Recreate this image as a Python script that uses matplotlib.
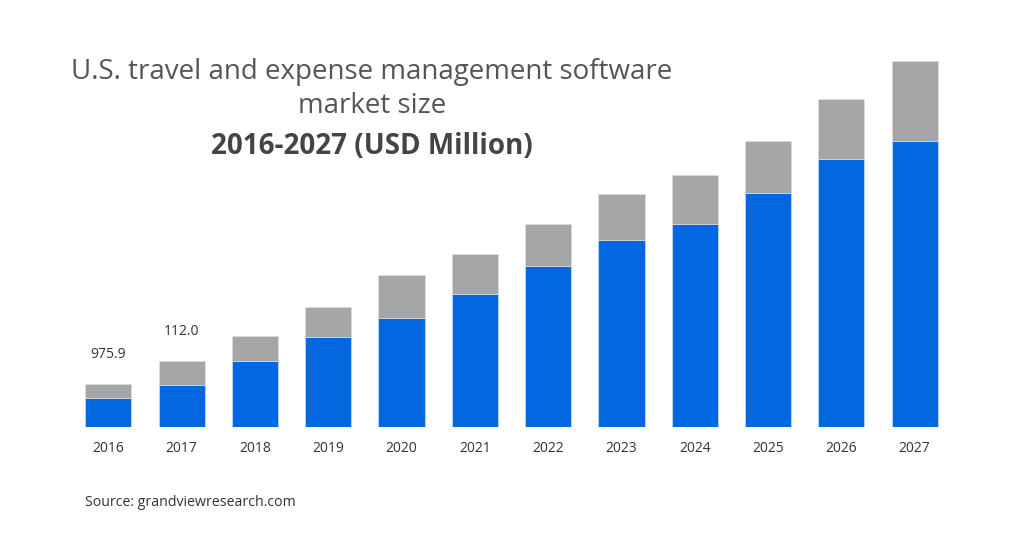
import matplotlib
matplotlib.use("Agg")
import matplotlib.pyplot as plt
import numpy as np

# ── data (arbitrary units) ───────────────────────────────────────────────────
years = ["2016", "2017", "2018", "2019", "2020", "2021",
         "2022", "2023", "2024", "2025", "2026", "2027"]
blue_part = [28.7, 42.3, 66.3, 89.7, 109.3, 132.7, 161.3, 186.7, 203.3, 234.0, 268.0, 286.3]
gray_part = [14.3, 23.7, 25.0, 30.0, 43.0, 40.0, 41.7, 46.6, 48.7, 52.0, 60.0, 79.7]
value_labels = {0: "975.9", 1: "112.0"}

BLUE = "#0368DF"
GRAY = "#A6A6A6"
TXT = "#333333"

plt.rcParams["font.family"] = ["Open Sans", "DejaVu Sans"]

fig = plt.figure(figsize=(10.24, 5.38), dpi=100)
ax = fig.add_axes([0.07, 0.2063, 0.859, 0.7193])

x = np.arange(len(years))
ax.bar(x, blue_part, width=0.63, color=BLUE, edgecolor="#cfe0f5", linewidth=0.5)
ax.bar(x, gray_part, width=0.63, bottom=blue_part, color=GRAY,
       edgecolor="#dddddd", linewidth=0.5)

for i, lab in value_labels.items():
    top = blue_part[i] + gray_part[i]
    ax.text(x[i], top + 22, lab, ha="center", va="bottom", fontsize=10, color=TXT)

ax.set_xlim(-0.5, len(years) - 0.5)
ax.set_ylim(0, 387)
ax.set_xticks(x)
ax.set_xticklabels(years, fontsize=10, color=TXT)
ax.tick_params(axis="x", length=0, pad=10)
ax.set_yticks([])
for s in ax.spines.values():
    s.set_visible(False)

# ── titles ───────────────────────────────────────────────────────────────────
fig.text(372 / 1024, 1 - 72 / 538, "U.S. travel and expense management software",
         ha="center", va="center", fontsize=20, color="#555555")
fig.text(372 / 1024, 1 - 106 / 538, "market size",
         ha="center", va="center", fontsize=20, color="#555555")
fig.text(372 / 1024, 1 - 146 / 538, "2016-2027 (USD Million)",
         ha="center", va="center", fontsize=20, fontweight="bold", color="#444444")

fig.text(85 / 1024, 1 - 503 / 538, "Source: grandviewresearch.com",
         ha="left", va="center", fontsize=10.2, color=TXT)

fig.savefig("out.png", dpi=100, facecolor="white")
